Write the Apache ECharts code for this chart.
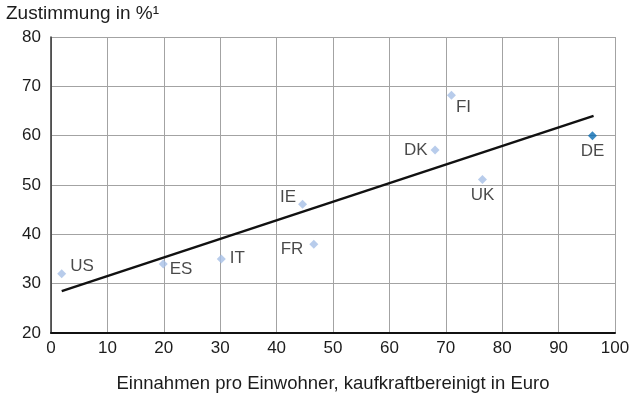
<!DOCTYPE html>
<html>
<head>
<meta charset="utf-8">
<script src="https://cdn.jsdelivr.net/npm/echarts@6/dist/echarts.min.js"></script>
<style>
  html, body { margin: 0; padding: 0; background: #fff; }
  #chart { width: 640px; height: 396px; }
</style>
</head>
<body>
<div id="chart"></div>
<script>
// Countries, revenue per inhabitant (x) and approval in % (y)
const countries = ['US', 'ES', 'IT', 'IE', 'FR', 'DK', 'FI', 'UK', 'DE'];
const revenue   = [1.9, 19.9, 30.2, 44.6, 46.6, 68.1, 71.0, 76.5, 96.0];
const approval  = [32.0, 34.0, 35.0, 46.1, 38.0, 57.1, 68.2, 51.1, 60.0];

// Regression line end points
const trendX = [1.9, 96.2];
const trendY = [28.5, 64.0];

// Axis ranges
const xTicks = { min: 0, max: 100, step: 10 };
const yTicks = { min: 20, max: 80, step: 10 };

const FONT = '"Liberation Sans", Arial, Helvetica, sans-serif';
const TEXT = '#1c1c1c';
const LIGHT = '#a6bfe6';
const DARK = '#0a6db3';

// Label placement per country
const labelPlacement = {
  US: { position: 'right', distance: 4, offset: [0, -7] },
  ES: { position: 'right', distance: 2, offset: [0, 5] },
  IT: { position: 'right', distance: 4, offset: [0, -1] },
  IE: { position: 'left', distance: 2, offset: [0, -7] },
  FR: { position: 'left', distance: 6, offset: [0, 5] },
  DK: { position: 'left', distance: 3, offset: [0, 0] },
  FI: { position: 'right', distance: 0, offset: [0, 12] },
  UK: { position: 'bottom', distance: 3, offset: [0, 0] },
  DE: { position: 'bottom', distance: 3, offset: [0, 0] }
};

const points = countries.map((c, i) => ({
  value: [revenue[i], approval[i]],
  name: c,
  itemStyle: { color: c === 'DE' ? DARK : LIGHT },
  label: Object.assign({ show: true, formatter: c }, labelPlacement[c])
}));

const chart = echarts.init(document.getElementById('chart'), null, { renderer: 'canvas' });
chart.setOption({
  animation: false,
  backgroundColor: '#fff',
  textStyle: { fontFamily: FONT },
  grid: { left: 51, right: 25, top: 37, bottom: 63, containLabel: false, outerBoundsMode: 'none' },
  xAxis: {
    type: 'value',
    min: xTicks.min, max: xTicks.max, interval: xTicks.step,
    name: 'Einnahmen pro Einwohner, kaufkraftbereinigt in Euro',
    nameLocation: 'middle',
    nameGap: 41,
    nameTextStyle: { fontSize: 18.5, color: TEXT, fontFamily: FONT },
    axisLine: { show: true, lineStyle: { color: '#111', width: 2 } },
    axisTick: { show: false },
    axisLabel: { fontSize: 17, color: TEXT, margin: 7, fontFamily: FONT },
    splitLine: { show: true, lineStyle: { color: '#a3a3a3', width: 1 } }
  },
  yAxis: {
    type: 'value',
    min: yTicks.min, max: yTicks.max, interval: yTicks.step,
    axisLine: { show: true, lineStyle: { color: '#333', width: 1.5 } },
    axisTick: { show: false },
    axisLabel: { fontSize: 17, color: TEXT, margin: 10, fontFamily: FONT },
    splitLine: { show: true, lineStyle: { color: '#a3a3a3', width: 1 } }
  },
  graphic: [{
    type: 'text',
    left: 6, top: 4,
    style: { text: 'Zustimmung in %¹', fontSize: 19, fill: TEXT, fontFamily: FONT }
  }],
  series: [
    {
      type: 'line',
      data: trendX.map((x, i) => [x, trendY[i]]),
      showSymbol: false,
      symbol: 'none',
      lineStyle: { color: '#111', width: 2.5 },
      z: 2,
      silent: true
    },
    {
      type: 'scatter',
      symbol: 'diamond',
      symbolSize: 9,
      data: points,
      label: { color: TEXT, fontSize: 17, fontFamily: FONT },
      z: 3
    }
  ]
});
</script>
</body>
</html>
